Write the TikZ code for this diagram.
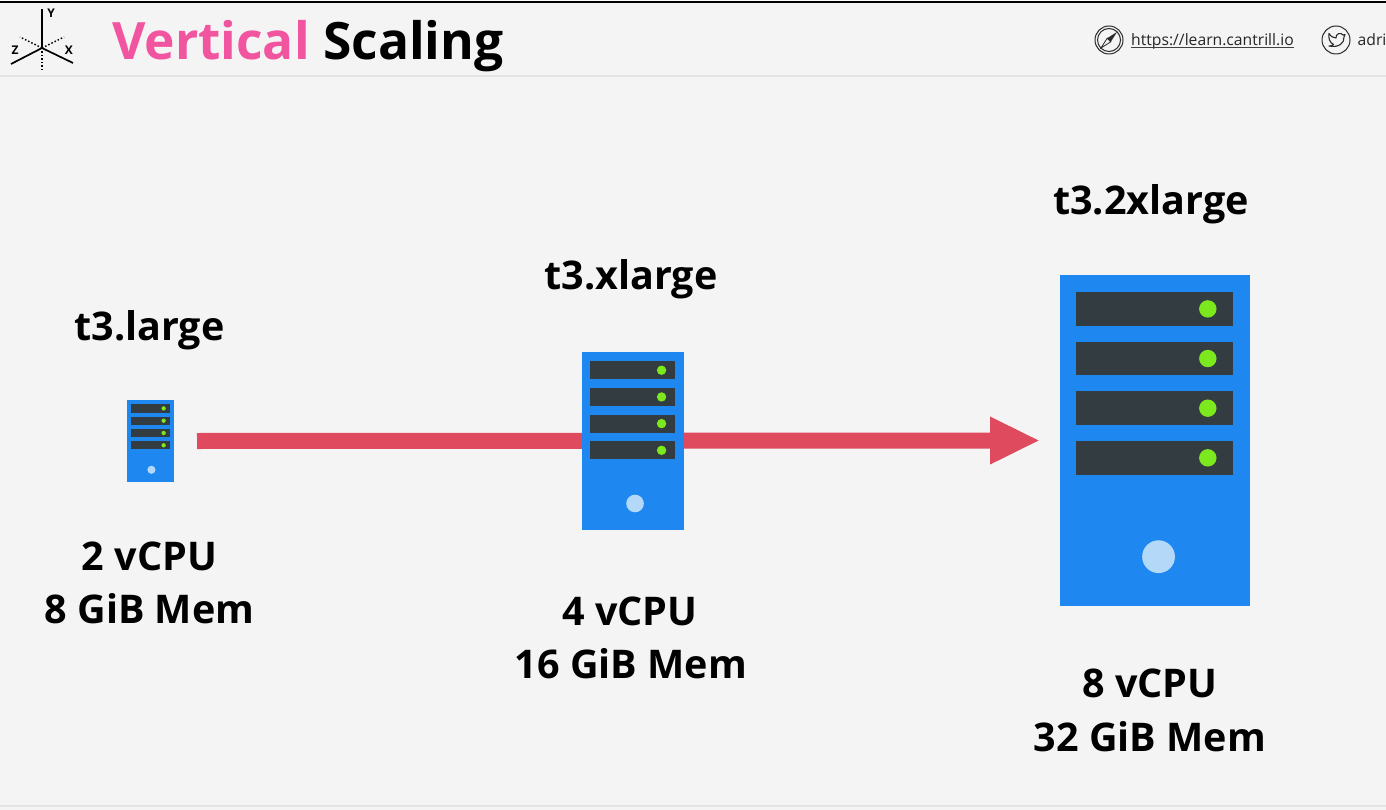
\documentclass[tikz,border=0pt]{standalone}
\usepackage{fontspec}
\setmainfont{Open Sans}
\usetikzlibrary{arrows.meta}
\definecolor{pagebg}{HTML}{F4F4F4}
\definecolor{rulegrey}{HTML}{E4E4E4}
\definecolor{titlepink}{HTML}{F2559F}
\definecolor{serverblue}{HTML}{1F88F0}
\definecolor{bardark}{HTML}{333C40}
\definecolor{ledgreen}{HTML}{7CE81E}
\definecolor{diskblue}{HTML}{B4D8F8}
\definecolor{arrowred}{HTML}{DF4A5E}
\definecolor{icongrey}{HTML}{2A2A2A}
\tikzset{
  serverbody/.style={fill=serverblue,draw=none,inner sep=0pt,outer sep=0pt,anchor=north west},
  biglabel/.style={font=\fontsize{39.5}{39.5}\selectfont\bfseries,anchor=base,inner sep=0pt,text=black},
  speclabel/.style={font=\fontsize{39.5}{39.5}\selectfont\bfseries,anchor=base,inner sep=0pt,text=black},
  axis/.style={line width=1.7pt,black},
  axisdot/.style={line width=1.5pt,black,dash pattern=on 1.5pt off 2pt},
  axislabel/.style={font=\fontsize{12}{12}\selectfont\bfseries,inner sep=0pt},
  iconline/.style={draw=icongrey,line width=1pt},
  bigarrow/.style={draw=arrowred,line width=16pt,-{Triangle[length=50pt,width=44pt,color=arrowred]}},
}
\newcommand{\serverbox}[5]{%
  \node[serverbody,minimum width=#4pt,minimum height=#5pt] (#1) at (#2,#3) {};
  \foreach \k in {0,1,2,3}{%
    \pgfmathsetmacro{\barx}{#2+0.0830*#4}
    \pgfmathsetmacro{\bary}{#3+(0.0514+0.1500*\k)*#5}
    \pgfmathsetmacro{\barxx}{\barx+0.830*#4}
    \pgfmathsetmacro{\baryy}{\bary+0.1020*#5}
    \pgfmathsetmacro{\ledx}{#2+0.780*#4}
    \pgfmathsetmacro{\ledy}{\bary+0.0510*#5}
    \pgfmathsetmacro{\ledr}{0.0460*#4}
    \fill[bardark] (\barx,\bary) rectangle (\barxx,\baryy);
    \fill[ledgreen] (\ledx,\ledy) circle[radius=\ledr];
  }
  \pgfmathsetmacro{\diskx}{#2+0.520*#4}
  \pgfmathsetmacro{\disky}{#3+0.851*#5}
  \pgfmathsetmacro{\diskr}{0.0865*#4}
  \fill[diskblue] (\diskx,\disky) circle[radius=\diskr];
}
\begin{document}
\begin{tikzpicture}[x=1pt,y=-1pt]
\useasboundingbox (0,0) rectangle (1386,810);
\fill[pagebg] (0,0) rectangle (1386,810);
\fill[white] (0,0) rectangle (1386,1.5);
\fill[black] (0,1.5) rectangle (1386,3);
\fill[rulegrey] (0,75.5) rectangle (1386,77);
\fill[rulegrey] (0,805) rectangle (1386,807);

% axes icon
\coordinate (o) at (42,48);
\draw[axis] (o) -- (42,9);
\draw[axis] (o) -- (11,64);
\draw[axis] (o) -- (73,63);
\draw[axisdot] (o) -- (42,71);
\draw[axisdot] (o) -- (20,37);
\draw[axisdot] (o) -- (64,37);
\node[axislabel] (ly) at (51,13.5) {Y};
\node[axislabel] (lz) at (15,50.5) {Z};
\node[axislabel] (lx) at (69,50.5) {X};

% title
\node[font=\fontsize{51.5}{51.5}\selectfont\bfseries,anchor=base west,inner sep=0pt] (title) at (112,60)
  {\textcolor{titlepink}{Vertical} \textcolor{black}{Scaling}};

% header links
\draw[iconline] (1109,40) circle[radius=14];
\draw[iconline] (1109,40) circle[radius=11.5];
\fill[icongrey] (1117,32) -- (1110.8,41.8) -- (1107.2,38.2) -- cycle;
\draw[icongrey,line width=.8pt] (1101,48) -- (1107.2,38.2) -- (1110.8,41.8) -- cycle;
\node[font=\fontsize{15.7}{15.7}\selectfont,anchor=base west,inner sep=0pt,text=black!85] (url) at (1131,46) {https://learn.cantrill.io};
\draw[black!75,line width=1.1pt] (1131,47.8) -- (1294,47.8);
\draw[iconline] (1336,40) circle[radius=14];
\draw[icongrey,line width=1.1pt,line join=round]
  (1329,33.5) .. controls (1331,36.5) and (1333,38) .. (1336,38)
  .. controls (1335.5,33.5) and (1341,32) .. (1343,35)
  -- (1345,34.5) -- (1344,37)
  .. controls (1344.5,43) and (1339,48) .. (1329,46)
  .. controls (1331,46) and (1332.5,45.5) .. (1333.5,44.5)
  .. controls (1330,43) and (1328,38) .. (1329,33.5) -- cycle;
\node[font=\fontsize{15.7}{15.7}\selectfont,anchor=base west,inner sep=0pt,text=black!85] (handle) at (1357.5,46) {adri};

% servers and arrow
\serverbox{small}{127}{400}{47}{82}
\serverbox{large}{1060}{275}{189.5}{331}
\draw[bigarrow] ([xshift=23pt]small.east) -- ([xshift=-20pt]large.west);
\serverbox{mid}{582}{352}{102}{178}

% labels
\node[biglabel] (n1) at (149.5,340) {t3.large};
\node[biglabel] (n2) at (631,289) {t3.xlarge};
\node[biglabel] (n3) at (1151,215) {t3.2xlarge};
\node[speclabel] (s1a) at (149.5,570) {2 vCPU};
\node[speclabel] (s1b) at (149.5,623) {8 GiB Mem};
\node[speclabel] (s2a) at (630,625) {4 vCPU};
\node[speclabel] (s2b) at (631,678) {16 GiB Mem};
\node[speclabel] (s3a) at (1150,697) {8 vCPU};
\node[speclabel] (s3b) at (1150,751) {32 GiB Mem};
\end{tikzpicture}
\end{document}
